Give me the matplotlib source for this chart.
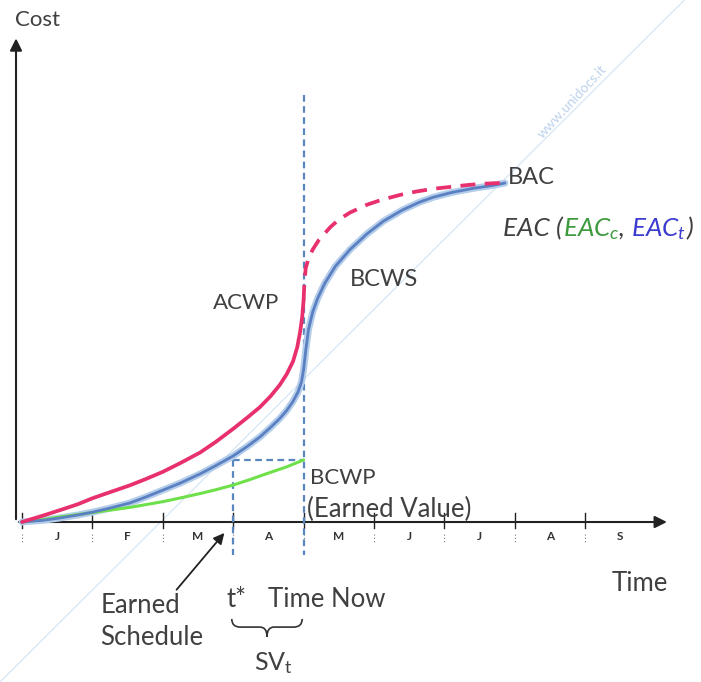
import matplotlib
matplotlib.use("Agg")
import matplotlib.pyplot as plt
from matplotlib.path import Path
from matplotlib.patches import PathPatch
from matplotlib.offsetbox import TextArea, HPacker, AnnotationBbox

plt.rcParams.update({
    "font.family": ["Lato", "DejaVu Sans"],
    "mathtext.fontset": "custom",
    "mathtext.rm": "Lato",
    "mathtext.it": "Lato:italic",
})

# ── Data (x in months from project start, y in % of BAC) ──────────────────
months = ["J", "F", "M", "A", "M", "J", "J", "A", "S"]
time_now = 4.0
t_star = 3.0

bcws_x = [0, 0.3, 0.54, 0.8, 1.0, 1.25, 1.53, 1.75, 2.0, 2.25, 2.53, 2.75, 3.0,
          3.2, 3.38, 3.53, 3.66, 3.76, 3.85, 3.92, 3.97, 4.0, 4.03, 4.07, 4.13,
          4.2, 4.3, 4.45, 4.66, 4.9, 5.13, 5.4, 5.65, 5.84, 6.1, 6.4, 6.69, 6.86]
bcws_y = [0, 0.5, 1.2, 2.1, 2.9, 4.1, 5.6, 7.3, 9.4, 11.5, 14.2, 16.6, 19.5,
          22.3, 25.1, 27.9, 30.5, 32.9, 35.6, 38.3, 41.3, 45.0, 50.5, 56.8, 62.0,
          66.0, 70.4, 75.4, 80.4, 85.0, 88.7, 92.0, 94.4, 95.8, 97.2, 98.4, 99.3, 100]

acwp_x = [0, 0.3, 0.54, 0.8, 1.0, 1.25, 1.53, 1.75, 2.0, 2.25, 2.53, 2.75, 3.0,
          3.2, 3.38, 3.53, 3.66, 3.76, 3.85, 3.91, 3.95, 3.98, 4.0]
acwp_y = [0, 1.9, 3.5, 5.3, 7.0, 8.8, 10.8, 12.6, 14.8, 17.4, 20.5, 23.6, 27.5,
          30.8, 33.9, 37.1, 40.4, 43.6, 47.4, 51.6, 56.0, 60.5, 65.5]

eac_x = [4.0, 4.01, 4.03, 4.07, 4.13, 4.22, 4.38, 4.5, 4.66, 4.9, 5.1, 5.37, 5.6,
         5.84, 6.1, 6.32, 6.55, 6.79]
eac_y = [65.5, 70.0, 74.9, 77.8, 80.4, 83.3, 87.0, 89.2, 91.3, 93.6, 95.0, 96.5, 97.5,
         98.3, 98.9, 99.4, 99.8, 100]

bcwp_x = [0, 0.3, 0.54, 0.8, 1.0, 1.25, 1.53, 1.75, 2.0, 2.25, 2.53, 2.75, 3.0,
          3.25, 3.48, 3.75, 4.0]
bcwp_y = [0, 0.7, 1.5, 2.2, 2.8, 3.5, 4.3, 5.1, 6.0, 7.1, 8.4, 9.5, 10.9,
          12.6, 14.3, 16.2, 18.3]

TXT = "#404040"
PINK = "#e8306c"
BLUE = "#5b80c2"
HALO = "#b4cdea"
GREEN = "#6ee04a"
DASH = "#5a86c0"

fig = plt.figure(figsize=(7.01, 6.82), dpi=100)
ax = fig.add_axes([0, 0, 1, 1])
ax.set_xlim(-0.3125, 9.645)
ax.set_ylim(-47.2, 154.0)
ax.axis("off")

# watermark
ax.plot([-0.3125, 9.41], [-47.2, 154.0], color="#d3e3f3", lw=0.8, zorder=0)
ax.text(7.82, 124.0, "www.unidocs.it", rotation=47, color="#bcd2ec", fontsize=10,
        ha="center", va="center", zorder=0)

# axes with arrows
ax.annotate("", xy=(-0.085, 143.5), xytext=(-0.085, 0),
            arrowprops=dict(arrowstyle="-|>", color="#222222", lw=1.5, mutation_scale=18))
ax.annotate("", xy=(9.2, 0), xytext=(-0.085, 0),
            arrowprops=dict(arrowstyle="-|>", color="#222222", lw=1.5, mutation_scale=18))

# month ticks and labels
for i in range(len(months)):
    ax.plot([i, i], [2.6, -1.8], color="#222222", lw=1.0, zorder=3)
    ax.plot([i, i], [-3.4, -6.2], color="#777777", lw=0.8, ls=(0, (1, 2)), zorder=3)
    ax.text(i + 0.5, -4.3, months[i], ha="center", va="center", fontsize=8.5,
            fontweight="bold", color="#333333")

# curves
ax.plot(bcws_x, bcws_y, color=HALO, lw=5.0, solid_capstyle="round", zorder=4)
ax.plot(bcws_x, bcws_y, color=BLUE, lw=2.0, solid_capstyle="round", zorder=5)
ax.plot(bcwp_x, bcwp_y, color=GREEN, lw=2.2, solid_capstyle="round", zorder=4)
ax.plot(acwp_x, acwp_y, color=PINK, lw=2.7, solid_capstyle="round", zorder=6)
ax.plot(eac_x, eac_y, color=PINK, lw=2.7, ls=(0, (4, 2.5)), zorder=6)

# time now / earned schedule guides
ax.plot([time_now, time_now], [126.0, -9.7], color=DASH, lw=1.6, ls=(0, (3, 2)), zorder=3)
ax.plot([t_star, t_star], [bcwp_y[-1], -9.7], color=DASH, lw=1.6, ls=(0, (3, 2)), zorder=3)
ax.plot([t_star, time_now], [bcwp_y[-1], bcwp_y[-1]], color=DASH, lw=1.6,
        ls=(0, (3, 2)), zorder=3)

cap_fs = 16
low_fs = 18.5
ax.text(-0.1, 148.0, "Cost", fontsize=cap_fs, color=TXT, ha="left", va="center")
ax.text(2.71, 64.6, "ACWP", fontsize=cap_fs, color=TXT, ha="left", va="center")
ax.text(4.66, 71.4, "BCWS", fontsize=17, color=TXT, ha="left", va="center")
ax.text(6.9, 101.5, "BAC", fontsize=17, color=TXT, ha="left", va="center")
ax.text(4.09, 13.0, "BCWP", fontsize=cap_fs, color=TXT, ha="left", va="center")
ax.text(4.05, 3.8, "(Earned Value)", fontsize=low_fs, color=TXT, ha="left", va="center")
ax.text(8.38, -18.0, "Time", fontsize=low_fs, color=TXT, ha="left", va="center")
ax.text(1.11, -24.7, "Earned", fontsize=low_fs, color=TXT, ha="left", va="center")
ax.text(1.11, -34.2, "Schedule", fontsize=low_fs, color=TXT, ha="left", va="center")
ax.text(2.9, -22.8, "t*", fontsize=low_fs, color=TXT, ha="left", va="center")
ax.text(3.5, -22.8, "Time Now", fontsize=low_fs, color=TXT, ha="left", va="center")
ax.text(3.57, -41.6, r"SV$_\mathrm{t}$", fontsize=18, color=TXT, ha="center", va="center")

# EAC label with coloured parts
parts = [("EAC (", TXT), (r"$EAC_{c}$", "#3d9a3d"), (", ", TXT),
         (r"$EAC_{t}$", "#3b3bd0"), (")", TXT)]
boxes = [TextArea(s, textprops=dict(color=c, fontsize=18.8, style="italic"))
         for s, c in parts]
pack = HPacker(children=boxes, align="baseline", pad=0, sep=0)
ab = AnnotationBbox(pack, (6.83, 86.4), box_alignment=(0, 0.5), frameon=False)
ax.add_artist(ab)

# arrow to earned schedule
ax.annotate("", xy=(2.9, -2.6), xytext=(2.17, -20.6),
            arrowprops=dict(arrowstyle="-|>", color="#222222", lw=1.3, mutation_scale=16))

# brace under t* .. time now
x0, x1 = 2.98, 3.98
xc = (x0 + x1) / 2
yt, ym, yb = -28.6, -31.0, -33.8
verts = [(x0, yt), (x0, ym), (x0 + 0.12, ym),
         (xc - 0.1, ym), (xc, ym), (xc, yb),
         (xc, ym), (xc + 0.1, ym),
         (x1 - 0.12, ym), (x1, ym), (x1, yt)]
codes = [Path.MOVETO, Path.CURVE3, Path.CURVE3,
         Path.LINETO, Path.CURVE3, Path.CURVE3,
         Path.CURVE3, Path.CURVE3,
         Path.LINETO, Path.CURVE3, Path.CURVE3]
ax.add_patch(PathPatch(Path(verts, codes), fill=False, edgecolor="#333333", lw=1.2))

fig.savefig("out.png", dpi=100)
